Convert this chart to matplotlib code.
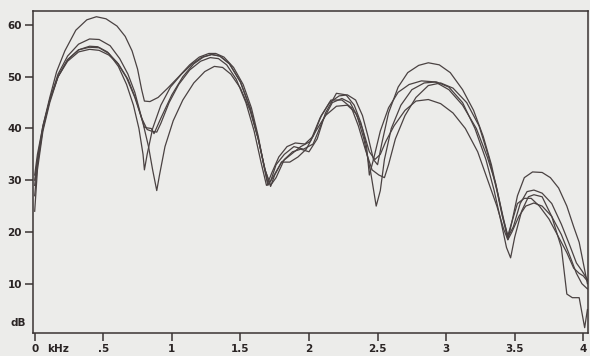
import numpy as np
from matplotlib import pyplot as plt

# spectrum envelopes (kHz, dB)
freq_a = [0.00, 0.02, 0.06, 0.11, 0.16, 0.22, 0.30, 0.38, 0.45, 0.52, 0.60, 0.66, 0.71, 0.75, 0.78, 0.80,
          0.84, 0.90, 0.97, 1.05, 1.13, 1.20, 1.27, 1.32, 1.38, 1.45, 1.52, 1.58, 1.63, 1.67, 1.70, 1.73,
          1.78, 1.84, 1.90, 1.97, 2.03, 2.09, 2.15, 2.22, 2.28, 2.34, 2.39, 2.43, 2.47, 2.50, 2.53, 2.58,
          2.65, 2.72, 2.80, 2.87, 2.95, 3.03, 3.12, 3.20, 3.27, 3.33, 3.38, 3.42, 3.45, 3.48, 3.52, 3.57,
          3.63, 3.70, 3.76, 3.82, 3.88, 3.93, 3.97, 4.00, 4.03]
db_a = [30, 34, 40.5, 46, 51, 55, 59, 61, 61.6, 61.2, 59.8, 57.8, 55, 51.5, 47.5, 45.3,
        45.2, 46, 47.8, 50, 52.3, 53.8, 54.5, 54.5, 53.8, 51.8, 48.5, 44, 38.5, 33, 29.5, 31.5,
        34.5, 36.5, 37.2, 37, 38.5, 42.5, 45, 46.3, 46.5, 45.5, 42.5, 38.5, 34, 33, 37, 43,
        48, 50.8, 52.2, 52.7, 52.3, 50.8, 47.5, 43.5, 38.5, 33, 27, 22, 18.5, 22, 27, 30.5,
        31.6, 31.5, 30.5, 28.5, 25, 21, 18, 14, 10]

freq_b = [0.00, 0.02, 0.06, 0.11, 0.17, 0.24, 0.32, 0.40, 0.47, 0.55, 0.62, 0.68, 0.73, 0.77, 0.80, 0.85,
          0.87, 0.92, 1.00, 1.08, 1.16, 1.23, 1.29, 1.35, 1.42, 1.50, 1.57, 1.63, 1.68, 1.72, 1.76, 1.82,
          1.88, 1.94, 2.00, 2.06, 2.12, 2.20, 2.27, 2.33, 2.38, 2.42, 2.44, 2.47, 2.52, 2.58, 2.65, 2.73,
          2.82, 2.92, 3.02, 3.12, 3.22, 3.30, 3.36, 3.41, 3.45, 3.49, 3.54, 3.59, 3.64, 3.70, 3.77, 3.84,
          3.90, 3.95, 3.99, 4.03]
db_b = [27, 33, 40, 45.5, 50.5, 54, 56.3, 57.3, 57.2, 56, 53.5, 50.5, 47, 43, 40.2, 40,
        39, 42, 46.5, 50, 52.5, 53.8, 54.3, 54, 52.5, 49, 44, 38, 32, 29, 30.5, 34,
        35.5, 36, 35.5, 38, 43, 46.8, 46.5, 44.5, 41, 36.5, 31, 34, 39.5, 44, 47, 48.5,
        49.2, 49, 47.5, 44.5, 40, 34.5, 29.5, 23.5, 19, 21, 25.5, 27.8, 28.1, 27.5, 25.5, 21.5,
        17.5, 14, 12.5, 10.8]

freq_c = [0.00, 0.02, 0.06, 0.11, 0.17, 0.24, 0.32, 0.40, 0.46, 0.53, 0.60, 0.67, 0.73, 0.78, 0.82, 0.85,
          0.89, 0.92, 0.98, 1.05, 1.13, 1.21, 1.28, 1.34, 1.40, 1.47, 1.54, 1.60, 1.65, 1.69, 1.72, 1.76,
          1.82, 1.89, 1.96, 2.03, 2.10, 2.17, 2.24, 2.30, 2.35, 2.40, 2.45, 2.49, 2.52, 2.55, 2.60, 2.67,
          2.75, 2.84, 2.93, 3.02, 3.12, 3.21, 3.29, 3.35, 3.40, 3.44, 3.47, 3.50, 3.55, 3.60, 3.64, 3.70,
          3.77, 3.84, 3.88, 3.92, 3.97, 4.01, 4.03]
db_c = [24, 32, 39.5, 45, 50, 53.3, 55.2, 55.9, 55.8, 54.8, 52.8, 49.8, 46, 42, 39.8, 39.5,
        39.3, 41, 45, 48.5, 51.3, 53, 53.7, 53.5, 52.3, 49.5, 45, 39.5, 33.5, 29, 29.8, 33,
        35, 36.5, 36, 37, 41.5, 45, 45.8, 45, 42.5, 38, 31.5, 25, 28, 34, 40, 44.5,
        47.5, 48.8, 49, 48, 45, 40, 34, 28, 22, 17, 15, 19, 24, 26.8, 27.2, 26.8,
        23, 17, 8, 7.3, 7.3, 1.5, 5]

freq_d = [0.00, 0.02, 0.06, 0.11, 0.17, 0.24, 0.32, 0.40, 0.47, 0.54, 0.61, 0.67, 0.72, 0.76, 0.79, 0.80,
          0.82, 0.86, 0.92, 0.99, 1.07, 1.15, 1.22, 1.29, 1.35, 1.42, 1.50, 1.57, 1.63, 1.67, 1.70, 1.74,
          1.80, 1.87, 1.94, 2.01, 2.08, 2.16, 2.24, 2.31, 2.36, 2.41, 2.46, 2.51, 2.55, 2.58, 2.63, 2.70,
          2.78, 2.87, 2.96, 3.05, 3.15, 3.24, 3.31, 3.37, 3.41, 3.45, 3.48, 3.52, 3.57, 3.62, 3.68, 3.75,
          3.82, 3.88, 3.93, 3.97, 4.00, 4.03]
db_d = [29, 34, 40, 45.5, 50, 53.3, 55.2, 55.7, 55.6, 54.5, 52, 48.5, 44.5, 40, 35, 32,
        35, 40, 44.5, 48, 50.5, 52.5, 53.8, 54.3, 54, 52.5, 49, 44, 38, 33, 29, 30.7,
        33.5, 35, 36.5, 37.5, 42, 45.5, 45.5, 44, 40.5, 36, 32, 31, 30.5, 33, 38, 42.5,
        46, 48.3, 48.8, 47.8, 45, 40.5, 34.5, 28, 23, 19.3, 22, 25.5, 26.5, 26.5, 25, 22.5,
        19, 16, 13, 12, 11.5, 10.5]

freq_e = [0.00, 0.02, 0.06, 0.11, 0.17, 0.24, 0.32, 0.40, 0.47, 0.54, 0.61, 0.68, 0.74, 0.79, 0.83, 0.86,
          0.89, 0.91, 0.95, 1.01, 1.08, 1.16, 1.24, 1.31, 1.37, 1.43, 1.50, 1.57, 1.63, 1.68, 1.72, 1.75,
          1.80, 1.86, 1.92, 1.98, 2.05, 2.12, 2.20, 2.28, 2.34, 2.39, 2.44, 2.48, 2.52, 2.56, 2.62, 2.70,
          2.78, 2.87, 2.96, 3.05, 3.14, 3.23, 3.31, 3.37, 3.42, 3.45, 3.48, 3.53, 3.58, 3.64, 3.70, 3.77,
          3.84, 3.90, 3.95, 3.99, 4.03]
db_e = [31, 35, 40.5, 45.5, 50, 53, 54.8, 55.3, 55.1, 54.2, 52.5, 49.5, 45.5, 41, 36.5, 32,
        28, 31, 36.5, 41.5, 45.5, 48.8, 51, 52, 51.8, 50.5, 47.8, 43.5, 38, 32, 28.8, 31,
        33.5, 33.5, 34.5, 36, 39.5, 42.5, 44.3, 44.5, 43, 40, 35.5, 34, 35, 37.5, 40.5, 43.5,
        45.3, 45.6, 44.8, 43, 40, 35.5, 29.5, 25, 20.5, 18.5, 20, 23, 25, 25.6, 25, 23,
        19.5, 15.5, 12, 10, 9]

x_ticks = [0, 0.5, 1, 1.5, 2, 2.5, 3, 3.5, 4]
x_tick_labels = ['0', '.5', '1', '1.5', '2', '2.5', '3', '3.5', '4']
y_ticks = [10, 20, 30, 40, 50, 60]

paper = '#ececea'
ink = '#4a4242'

fig = plt.figure(figsize=(5.9, 3.56), dpi=100, facecolor=paper)
ax = fig.add_axes([0.056, 0.065, 0.941, 0.904], facecolor=paper)

for f, db in [(freq_a, db_a), (freq_b, db_b), (freq_c, db_c), (freq_d, db_d), (freq_e, db_e)]:
    ax.plot(f, db, color=ink, lw=0.9)

ax.set_xlim(-0.012, 4.036)
ax.set_ylim(0.5, 62.7)

ax.set_xticks(x_ticks)
ax.set_xticklabels(x_tick_labels)
ax.set_yticks(y_ticks)

for s in ax.spines.values():
    s.set_color('#3a3333')
    s.set_linewidth(1.1)

ax.tick_params(axis='both', direction='out', length=6, width=1.1, color='#3a3333',
               labelsize=7.5, labelcolor='#2a2424', pad=2)
for lab in ax.get_xticklabels() + ax.get_yticklabels():
    lab.set_fontweight('bold')

ax.text(0.17, -0.035, 'kHz', transform=ax.get_xaxis_transform(), ha='center', va='top',
        fontsize=7.5, fontweight='bold', color='#2a2424')
fig.text(18 / 590, 1 - 323 / 356, 'dB', ha='center', va='center',
         fontsize=7.5, fontweight='bold', color='#2a2424')

plt.savefig('out.png', dpi=100, facecolor=paper)
plt.close()
